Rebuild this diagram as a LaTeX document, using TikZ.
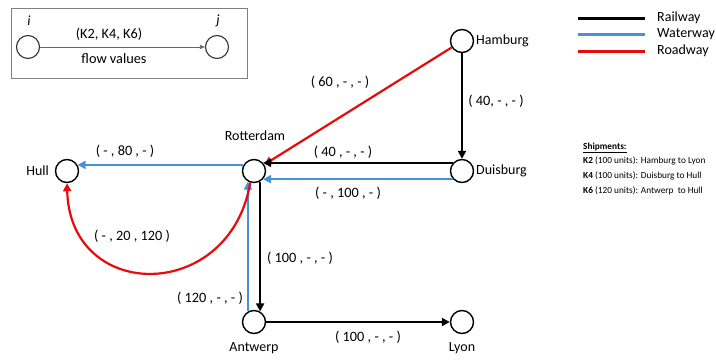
\documentclass[tikz,border=0pt]{standalone}
\usepackage{fontspec}
\setmainfont{Carlito}
\usetikzlibrary{arrows.meta}
\definecolor{rail}{RGB}{0,0,0}
\definecolor{water}{RGB}{70,145,215}
\definecolor{road}{RGB}{230,10,10}
\begin{document}
\begin{tikzpicture}[x=1pt,y=-1pt,
  city/.style={circle,draw=black,line width=1.4pt,minimum size=23pt,inner sep=0pt,fill=white},
  lcity/.style={circle,draw=black!80,line width=1.1pt,minimum size=23pt,inner sep=0pt},
  lbl/.style={font=\fontsize{14}{16}\selectfont,inner sep=1pt},
  flow/.style={font=\fontsize{14.3}{16}\selectfont,inner sep=1pt},
  railway/.style={draw=rail,line width=2.2pt,-{Triangle[length=8pt,width=8pt]}},
  waterway/.style={draw=water,line width=2.2pt,-{Triangle[length=8pt,width=8pt]}},
  roadway/.style={draw=road,line width=2.2pt,-{Triangle[length=8pt,width=8pt]}},
  legline/.style={line width=3pt},
  shp/.style={font=\fontsize{9.3}{11}\selectfont,anchor=west,inner sep=0pt}
]
\useasboundingbox (0,0) rectangle (716,360);

% legend box
\node[draw=black!50,line width=0.8pt,minimum width=236pt,minimum height=70pt,inner sep=0pt] (box) at (129,43) {};
\node[lcity] (i) at (28,47) {};
\node[lcity] (j) at (217,47) {};
\node[lbl,font=\fontsize{14}{16}\selectfont\itshape] (il) at (29,21) {i};
\node[lbl,font=\fontsize{14}{16}\selectfont\itshape] (jl) at (218,21) {j};
\draw[black!60,line width=0.7pt,-{Triangle[length=5pt,width=4pt]}] (i) -- (j);
\node[flow] (kk) at (109,34) {(K2, K4, K6)};
\node[flow] (fv) at (114,59) {flow values};

% cities
\node[city] (ham) at (462,41) {};
\node[city] (dui) at (462,171) {};
\node[city] (rot) at (254,171) {};
\node[city] (hul) at (67,171) {};
\node[city] (ant) at (254,322) {};
\node[city] (lyo) at (462,322) {};

\node[lbl,anchor=west] (hamL) at (475,41) {Hamburg};
\node[lbl,anchor=west] (duiL) at (475,171) {Duisburg};
\node[lbl] (rotL) at (255,136) {Rotterdam};
\node[lbl,anchor=east] (hulL) at (50,171) {Hull};
\node[lbl] (antL) at (254,348) {Antwerp};
\node[lbl] (lyoL) at (462,348) {Lyon};

% edges
\draw[roadway] (ham) -- (rot);
\draw[railway] (ham) -- (dui);
\draw[railway] (dui.138) -- (rot.42);
\draw[waterway] (dui.222) -- (rot.-42);
\draw[waterway] (rot.150) -- (hul.30);
\draw[railway] (rot.-60) -- (ant.60);
\draw[waterway] (ant.120) -- (rot.240);
\draw[railway] (ant) -- (lyo);
\draw[roadway] (rot.-108) .. controls (230,303) and (70,303) .. (hul.-90);

% flow labels
\node[flow] (f1) at (340,82) {( 60 , - , - )};
\node[flow] (f2) at (496,101) {( 40, - , - )};
\node[flow] (f3) at (343,152) {( 40 , - , - )};
\node[flow] (f4) at (348,193) {( - , 100 , - )};
\node[flow] (f5) at (125,151) {( - , 80 , - )};
\node[flow] (f6) at (132,236) {( - , 20 , 120 )};
\node[flow] (f7) at (300,258) {( 100 , - , - )};
\node[flow] (f8) at (210,298) {( 120 , - , - )};
\node[flow] (f9) at (368,337) {( 100 , - , - )};

% mode legend
\coordinate (r1) at (578,18); \coordinate (r2) at (645,18);
\coordinate (w1) at (578,34); \coordinate (w2) at (645,34);
\coordinate (d1) at (578,51); \coordinate (d2) at (645,51);
\draw[legline,rail] (r1) -- (r2);
\draw[legline,water] (w1) -- (w2);
\draw[legline,road] (d1) -- (d2);
\node[lbl,anchor=west] (rl) at (656,18) {Railway};
\node[lbl,anchor=west] (wl) at (656,34) {Waterway};
\node[lbl,anchor=west] (dl) at (656,51) {Roadway};

% shipments
\node[shp] (s0) at (583,148) {\textbf{\underline{Shipments:}}};
\node[shp] (s1) at (583,161) {\textbf{K2} (100 units): Hamburg to Lyon};
\node[shp] (s2) at (583,176) {\textbf{K4} (100 units): Duisburg to Hull};
\node[shp] (s3) at (583,191) {\textbf{K6} (120 units): Antwerp\ \ to Hull};
\end{tikzpicture}
\end{document}
